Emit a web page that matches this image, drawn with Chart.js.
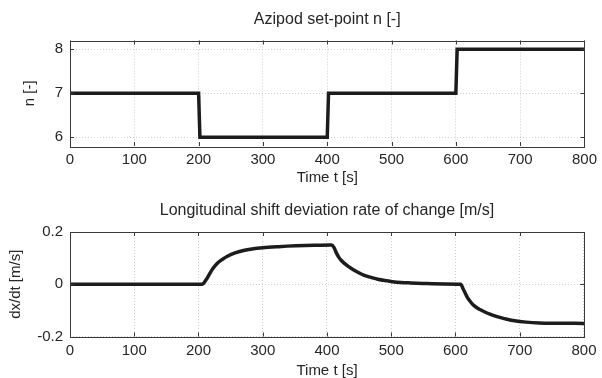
<!DOCTYPE html>
<html>
<head>
<meta charset="utf-8">
<script src="https://cdn.jsdelivr.net/npm/chart.js@4.4.1/dist/chart.umd.min.js"></script>
<style>
  html, body { margin: 0; padding: 0; background: #fff; overflow: hidden; }
  #wrap { position: relative; width: 602px; height: 378px; overflow: hidden; }
  #topChart { position: absolute; left: 0; top: 0; }
  #bottomChart { position: absolute; left: 0; top: 189px; }
</style>
</head>
<body>
<div id="wrap">
  <canvas id="topChart" width="602" height="189"></canvas>
  <canvas id="bottomChart" width="602" height="200"></canvas>
</div>
<script>
// time axis ticks (shared)
const timeTicks = [0, 100, 200, 300, 400, 500, 600, 700, 800];

// Azipod set-point n [-]
const setTime = [0, 200, 202, 400, 402, 600, 602, 800];
const setN    = [7, 7, 6, 6, 7, 7, 8, 8];
const nTicks  = [6, 7, 8];

// longitudinal shift deviation rate of change [m/s]
const rateTime = [0, 206, 211, 216, 221, 226, 231, 237, 245, 257, 270, 283, 300, 325, 352, 380, 407,
                  411, 414, 418, 422, 430, 438, 448, 458, 470, 479, 490, 502, 515, 530, 550, 582, 608,
                  612, 618, 623, 628, 638, 649, 660, 669, 680, 692, 710, 730, 760, 800];
const rateVal  = [0, 0, 0.014, 0.034, 0.055, 0.071, 0.084, 0.095, 0.107, 0.120, 0.129, 0.135, 0.140, 0.144, 0.147, 0.149, 0.150,
                  0.140, 0.123, 0.105, 0.092, 0.074, 0.060, 0.046, 0.034, 0.025, 0.019, 0.014, 0.010, 0.007, 0.005, 0.003, 0.001, 0,
                  -0.018, -0.048, -0.066, -0.080, -0.097, -0.110, -0.120, -0.127, -0.134, -0.140, -0.145, -0.148, -0.149, -0.150];
const rateTicks  = [-0.2, 0, 0.2];
const rateLabels = ['-0.2', '0', '0.2'];

const FONT = "'Liberation Sans', Arial, Helvetica, sans-serif";
const textColor = '#262626';
const gridColor = '#cfcfcf';

// box around the axes with inward tick marks on all four sides
const framePlugin = {
  id: 'frame',
  afterDraw(chart) {
    const {ctx, chartArea: a, scales} = chart;
    const tl = 4;
    ctx.save();
    ctx.strokeStyle = '#3a3a3a';
    ctx.lineWidth = 1;
    ctx.beginPath();
    scales.x.ticks.forEach(t => {
      const px = Math.round(scales.x.getPixelForValue(t.value)) + 0.5;
      ctx.moveTo(px, a.bottom); ctx.lineTo(px, a.bottom - tl);
      ctx.moveTo(px, a.top); ctx.lineTo(px, a.top + tl);
    });
    scales.y.ticks.forEach(t => {
      const py = Math.round(scales.y.getPixelForValue(t.value)) + 0.5;
      ctx.moveTo(a.left, py); ctx.lineTo(a.left + tl, py);
      ctx.moveTo(a.right, py); ctx.lineTo(a.right - tl, py);
    });
    ctx.stroke();
    ctx.strokeRect(Math.round(a.left) + 0.5, Math.round(a.top) + 0.5,
                   Math.round(a.right - a.left), Math.round(a.bottom - a.top));
    ctx.restore();
  }
};

function makeChart(id, opts) {
  return new Chart(document.getElementById(id), {
    type: 'line',
    data: {
      datasets: [{
        data: opts.xs.map((x, i) => ({x: x, y: opts.ys[i]})),
        borderColor: '#1c1c1c',
        borderWidth: 3.5,
        pointRadius: 0,
        fill: false,
        cubicInterpolationMode: opts.smooth ? 'monotone' : 'default',
        tension: 0
      }]
    },
    options: {
      responsive: false,
      animation: false,
      events: [],
      layout: {padding: {left: 0, right: 14, top: 0, bottom: 0}},
      plugins: {
        legend: {display: false},
        tooltip: {enabled: false},
        title: {
          display: true,
          text: opts.title,
          fullSize: false,
          color: textColor,
          font: {family: FONT, size: 16, weight: 'normal', lineHeight: 1.2},
          padding: opts.titlePad
        }
      },
      scales: {
        x: {
          type: 'linear',
          min: 0, max: 800,
          afterBuildTicks: s => { s.ticks = timeTicks.map(v => ({value: v})); },
          afterFit: s => { s.height = opts.xHeight; },
          grid: {color: gridColor, drawTicks: false, lineWidth: 1},
          border: {display: false, dash: [1, 2]},
          ticks: {color: textColor, padding: opts.xTickPad, maxRotation: 0, font: {family: FONT, size: 15}},
          title: {display: true, text: 'Time t [s]', color: textColor,
                  font: {family: FONT, size: 15}, padding: {top: 0, bottom: opts.xTitlePad}}
        },
        y: {
          min: opts.yMin, max: opts.yMax,
          afterBuildTicks: s => { s.ticks = opts.yTicks.map(v => ({value: v})); },
          afterFit: s => { s.width = 70; },
          grid: {color: gridColor, drawTicks: false, lineWidth: 1},
          border: {display: false, dash: [1, 2]},
          ticks: {color: textColor, padding: 7, font: {family: FONT, size: 15},
                  callback: v => opts.yLabels ? opts.yLabels[opts.yTicks.indexOf(v)] : String(v)},
          title: {display: true, text: opts.yTitle, color: textColor,
                  font: {family: FONT, size: 15}, padding: {top: opts.yTitlePad, bottom: 0}}
        }
      }
    },
    plugins: [framePlugin]
  });
}

makeChart('topChart', {
  xs: setTime, ys: setN, smooth: false,
  title: 'Azipod set-point n [-]',
  titlePad: {top: 10.4, bottom: 10.9},
  xHeight: 43, xTickPad: 5, xTitlePad: 2,
  yMin: 5.8, yMax: 8.2, yTicks: nTicks,
  yTitle: 'n [-]', yTitlePad: 21
});

makeChart('bottomChart', {
  xs: rateTime, ys: rateVal, smooth: true,
  title: 'Longitudinal shift deviation rate of change [m/s]',
  titlePad: {top: 12.4, bottom: 11.4},
  xHeight: 52.5, xTickPad: 5.5, xTitlePad: 9,
  yMin: -0.2, yMax: 0.2, yTicks: rateTicks, yLabels: rateLabels,
  yTitle: 'dx/dt [m/s]', yTitlePad: 7
});
</script>
</body>
</html>
